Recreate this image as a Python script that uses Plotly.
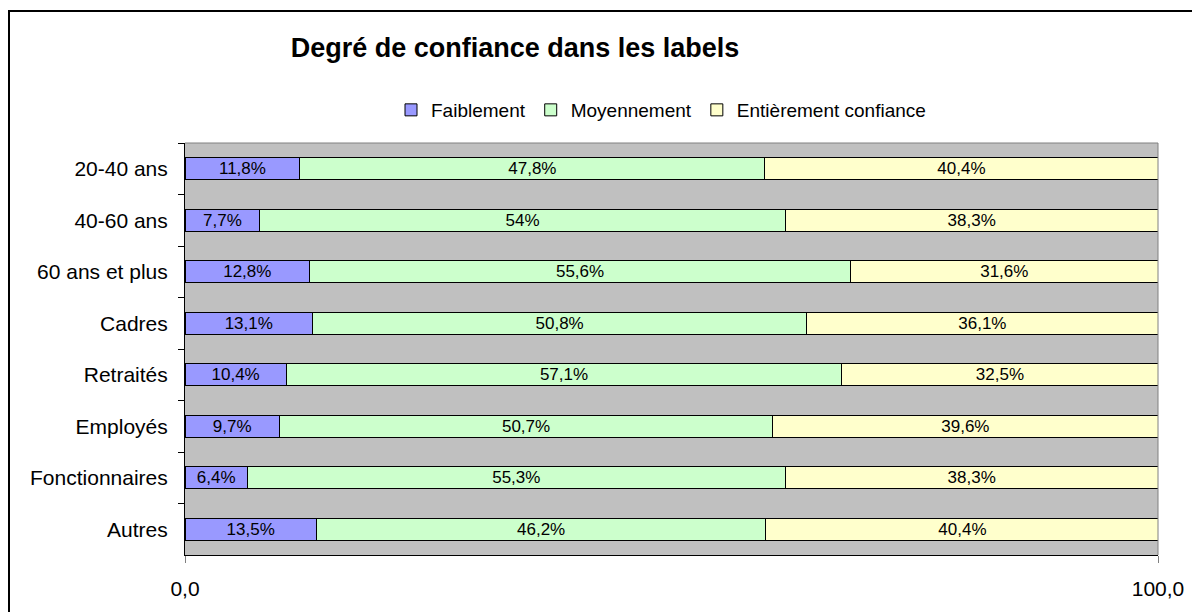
import plotly.graph_objects as go

categories = ["20-40 ans", "40-60 ans", "60 ans et plus", "Cadres", "Retraités",
              "Employés", "Fonctionnaires", "Autres"]
faiblement = [11.8, 7.7, 12.8, 13.1, 10.4, 9.7, 6.4, 13.5]
moyennement = [47.8, 54, 55.6, 50.8, 57.1, 50.7, 55.3, 46.2]
entierement = [40.4, 38.3, 31.6, 36.1, 32.5, 39.6, 38.3, 40.4]
x_tick_vals = [0, 100]
x_tick_text = ["0,0", "100,0"]

series = [
    ("Faiblement", faiblement, "#9999FF"),
    ("Moyennement", moyennement, "#CCFFCC"),
    ("Entièrement confiance", entierement, "#FFFFCC"),
]

def fmt(v):
    s = ("%g" % v).replace(".", ",")
    return s + "%"

FONT = "Liberation Sans, Arial"

fig = go.Figure()
for name, vals, color in series:
    fig.add_trace(go.Bar(
        y=categories, x=vals, name=name, orientation="h",
        marker=dict(color=color, line=dict(color="black", width=1)),
        text=[fmt(v) for v in vals], textposition="inside",
        insidetextanchor="middle", textangle=0,
        textfont=dict(family=FONT, size=17, color="black"),
        constraintext="none",
    ))

W, H = 1200, 612
L, R, T, B = 177, 50, 135, 65
pw, ph = W - L - R, H - T - B

fig.update_layout(
    width=W, height=H, barmode="stack", bargap=0.57,
    margin=dict(l=L, r=R, t=T, b=B),
    paper_bgcolor="white", plot_bgcolor="#C0C0C0",
    font=dict(family=FONT, color="black"),
    title=dict(text="<b>Degré de confiance dans les labels</b>", x=507 / W, xanchor="center",
               y=1 - 40 / H, yanchor="middle",
               font=dict(size=27, family=FONT, color="black")),
    legend=dict(orientation="h", x=(383 - L) / pw, y=1 + (T - 102) / ph,
                yanchor="middle", xanchor="left",
                font=dict(size=19), traceorder="normal",
                itemwidth=30, bgcolor="rgba(0,0,0,0)"),
    uniformtext=dict(mode=False),
    xaxis=dict(range=[0, 100], tickvals=x_tick_vals, ticktext=x_tick_text,
               showgrid=False, zeroline=False, showline=True, linecolor="black",
               linewidth=1, ticks="outside", ticklen=7, tickcolor="#808080",
               ticklabelstandoff=8,
               tickfont=dict(size=21), fixedrange=True),
    yaxis=dict(autorange="reversed", showgrid=False, showline=True, linecolor="black",
               linewidth=1, ticks="outside", tickson="boundaries", ticklen=6,
               tickcolor="black", tickfont=dict(size=21), ticklabelstandoff=12),
    showlegend=True,
)

# plot area frame top/right in gray
fig.add_shape(type="line", xref="paper", yref="paper", x0=0, x1=1, y0=1, y1=1,
              line=dict(color="#808080", width=1))
fig.add_shape(type="line", xref="paper", yref="paper", x0=1, x1=1, y0=0, y1=1,
              line=dict(color="#808080", width=1))
# outer chart border
fig.add_shape(type="rect", xref="paper", yref="paper",
              x0=(1 - L) / pw, x1=(W + 30 - L) / pw,
              y0=-(B + 30) / ph, y1=1 + (T - 3) / ph,
              line=dict(color="black", width=2), layer="below")

fig.write_html("out.html")
